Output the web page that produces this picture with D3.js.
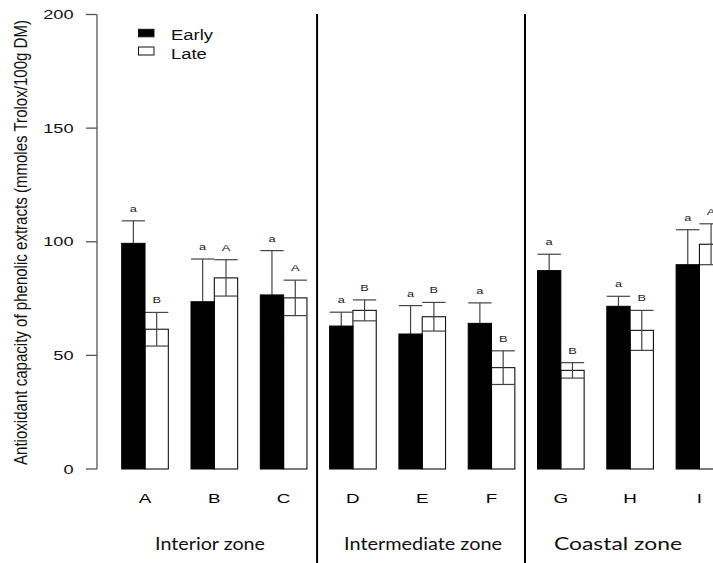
<!DOCTYPE html>
<html>
<head>
<meta charset="utf-8">
<script src="https://cdn.jsdelivr.net/npm/d3@7"></script>
<style>
html,body{margin:0;padding:0;background:#fff;}
svg{display:block;}
</style>
</head>
<body>
<svg id="chart" width="713" height="563"></svg>
<script>
const categories = ["A","B","C","D","E","F","G","H","I"];
const series = ["Early","Late"];
const earlyValues = [99.3, 73.6, 76.6, 62.9, 59.4, 64.1, 87.3, 71.6, 89.9];
const earlyErrors = [9.9, 18.8, 19.5, 6.1, 12.5, 9.0, 7.2, 4.4, 15.4];
const lateValues  = [61.5, 84.1, 75.3, 69.8, 67.0, 44.6, 43.4, 61.0, 98.9];
const lateErrors  = [7.4, 8.0, 7.8, 4.6, 6.3, 7.4, 3.4, 8.8, 9.0];
const earlyLetters = ["a","a","a","a","a","a","a","a","a"];
const lateLetters  = ["B","A","A","B","B","B","B","B","A"];
const zones = [
  {name:"Interior zone", cats:["A","B","C"]},
  {name:"Intermediate zone", cats:["D","E","F"]},
  {name:"Coastal zone", cats:["G","H","I"]}
];
const yTicks = [0, 50, 100, 150, 200];
const yTitle = "Antioxidant capacity of phenolic extracts (mmoles Trolox/100g DM)";

const W = 713, H = 563;
const svg = d3.select("#chart");
const axisX = 97;
const y = d3.scaleLinear().domain([0, 200]).range([469, 14.5]);
const pi = 0.327;
const step = 69.3;
const r0 = 121.7 - step * pi / 2;
const x = d3.scaleBand().domain(categories).range([r0, r0 + step * categories.length])
  .paddingInner(pi).paddingOuter(pi / 2);
const xs = d3.scaleBand().domain(series).range([0, x.bandwidth()]);

const data = [];
categories.forEach((c, i) => {
  data.push({cat:c, s:"Early", v:earlyValues[i], e:earlyErrors[i], l:earlyLetters[i]});
  data.push({cat:c, s:"Late", v:lateValues[i], e:lateErrors[i], l:lateLetters[i]});
});
const bx = d => x(d.cat) + xs(d.s);
const bw = xs.bandwidth();
const FONT = "Liberation Sans, Arial, Helvetica, sans-serif";

// Y axis
const gy = svg.append("g");
gy.append("line").attr("x1", axisX).attr("x2", axisX).attr("y1", y(0)).attr("y2", y(200))
  .attr("stroke", "#555").attr("stroke-width", 1.3);
yTicks.forEach(t => {
  gy.append("line").attr("x1", axisX - 11).attr("x2", axisX).attr("y1", y(t)).attr("y2", y(t))
    .attr("stroke", "#555").attr("stroke-width", 1.3);
  gy.append("text").attr("transform", `translate(73.5,${y(t) + 4.6}) scale(1.4,1)`)
    .attr("text-anchor", "end").attr("font-family", FONT).attr("font-size", 13)
    .attr("fill", "#111").text(t);
});
svg.append("text").attr("transform", "translate(26.5,242.5) scale(1.35,1) rotate(-90)")
  .attr("text-anchor", "middle").attr("font-family", FONT).attr("font-size", 13.4)
  .attr("textLength", 445).attr("lengthAdjust", "spacingAndGlyphs")
  .attr("fill", "#111").text(yTitle);

// Late bars
svg.append("g").selectAll("rect").data(data.filter(d => d.s === "Late")).join("rect")
  .attr("x", bx).attr("width", bw).attr("y", d => y(d.v)).attr("height", d => y(0) - y(d.v))
  .attr("fill", "#fff").attr("stroke", "#111").attr("stroke-width", 1.1);

// Error bars
const ge = svg.append("g").attr("stroke", "#444").attr("stroke-width", 1.2);
data.forEach(d => {
  const cx = bx(d) + bw / 2;
  ge.append("line").attr("x1", cx).attr("x2", cx).attr("y1", y(d.v + d.e)).attr("y2", y(d.v - d.e));
  ge.append("line").attr("x1", bx(d)).attr("x2", bx(d) + bw).attr("y1", y(d.v + d.e)).attr("y2", y(d.v + d.e));
  ge.append("line").attr("x1", bx(d)).attr("x2", bx(d) + bw).attr("y1", y(d.v - d.e)).attr("y2", y(d.v - d.e));
});

// Early bars
svg.append("g").selectAll("rect").data(data.filter(d => d.s === "Early")).join("rect")
  .attr("x", bx).attr("width", bw).attr("y", d => y(d.v)).attr("height", d => y(0) - y(d.v))
  .attr("fill", "#000").attr("stroke", "#000").attr("stroke-width", 1);

// Significance letters
svg.append("g").selectAll("text").data(data).join("text")
  .attr("transform", d => `translate(${bx(d) + bw / 2},${y(d.v + d.e) - 9}) scale(1.35,1)`)
  .attr("text-anchor", "middle").attr("font-family", FONT).attr("font-size", 9.5)
  .attr("fill", "#222").text(d => d.l);

// Category labels
categories.forEach(c => {
  svg.append("text").attr("transform", `translate(${x(c) + x.bandwidth() / 2},503) scale(1.45,1)`)
    .attr("text-anchor", "middle").attr("font-family", FONT).attr("font-size", 13)
    .attr("fill", "#000").text(c);
});

// Separators
const seps = [];
for (let i = 1; i < zones.length; i++) {
  const prev = zones[i - 1].cats[zones[i - 1].cats.length - 1];
  const next = zones[i].cats[0];
  seps.push((x(prev) + x.bandwidth() + x(next)) / 2 - 1.2);
}
seps.forEach(sx => {
  svg.append("line").attr("x1", sx).attr("x2", sx).attr("y1", 14).attr("y2", H)
    .attr("stroke", "#000").attr("stroke-width", 2);
});

// Zone labels
const bounds = [axisX, ...seps, W];
const zoneWidths = [110, 158, 128];
zones.forEach((z, i) => {
  const cx = (bounds[i] + bounds[i + 1]) / 2 + (i === 0 ? 3 : (i === 1 ? 2 : -1));
  svg.append("text").attr("x", cx).attr("y", 550)
    .attr("text-anchor", "middle").attr("font-family", "Lato, 'Open Sans', sans-serif")
    .attr("font-size", 17).attr("textLength", zoneWidths[i]).attr("lengthAdjust", "spacingAndGlyphs")
    .attr("fill", "#111").text(z.name);
});

// Legend
const lg = svg.append("g");
const legendRows = [{s:"Early", fill:"#000", y:29.3, h:7.5, ty:40}, {s:"Late", fill:"#fff", y:47, h:8, ty:59.3}];
legendRows.forEach(r => {
  lg.append("rect").attr("x", 138.5).attr("y", r.y).attr("width", 15.5).attr("height", r.h)
    .attr("fill", r.fill).attr("stroke", "#111").attr("stroke-width", 1);
  lg.append("text").attr("transform", `translate(171,${r.ty}) scale(1.27,1)`)
    .attr("font-family", FONT).attr("font-size", 14.5).attr("fill", "#111").text(r.s);
});
</script>
</body>
</html>
